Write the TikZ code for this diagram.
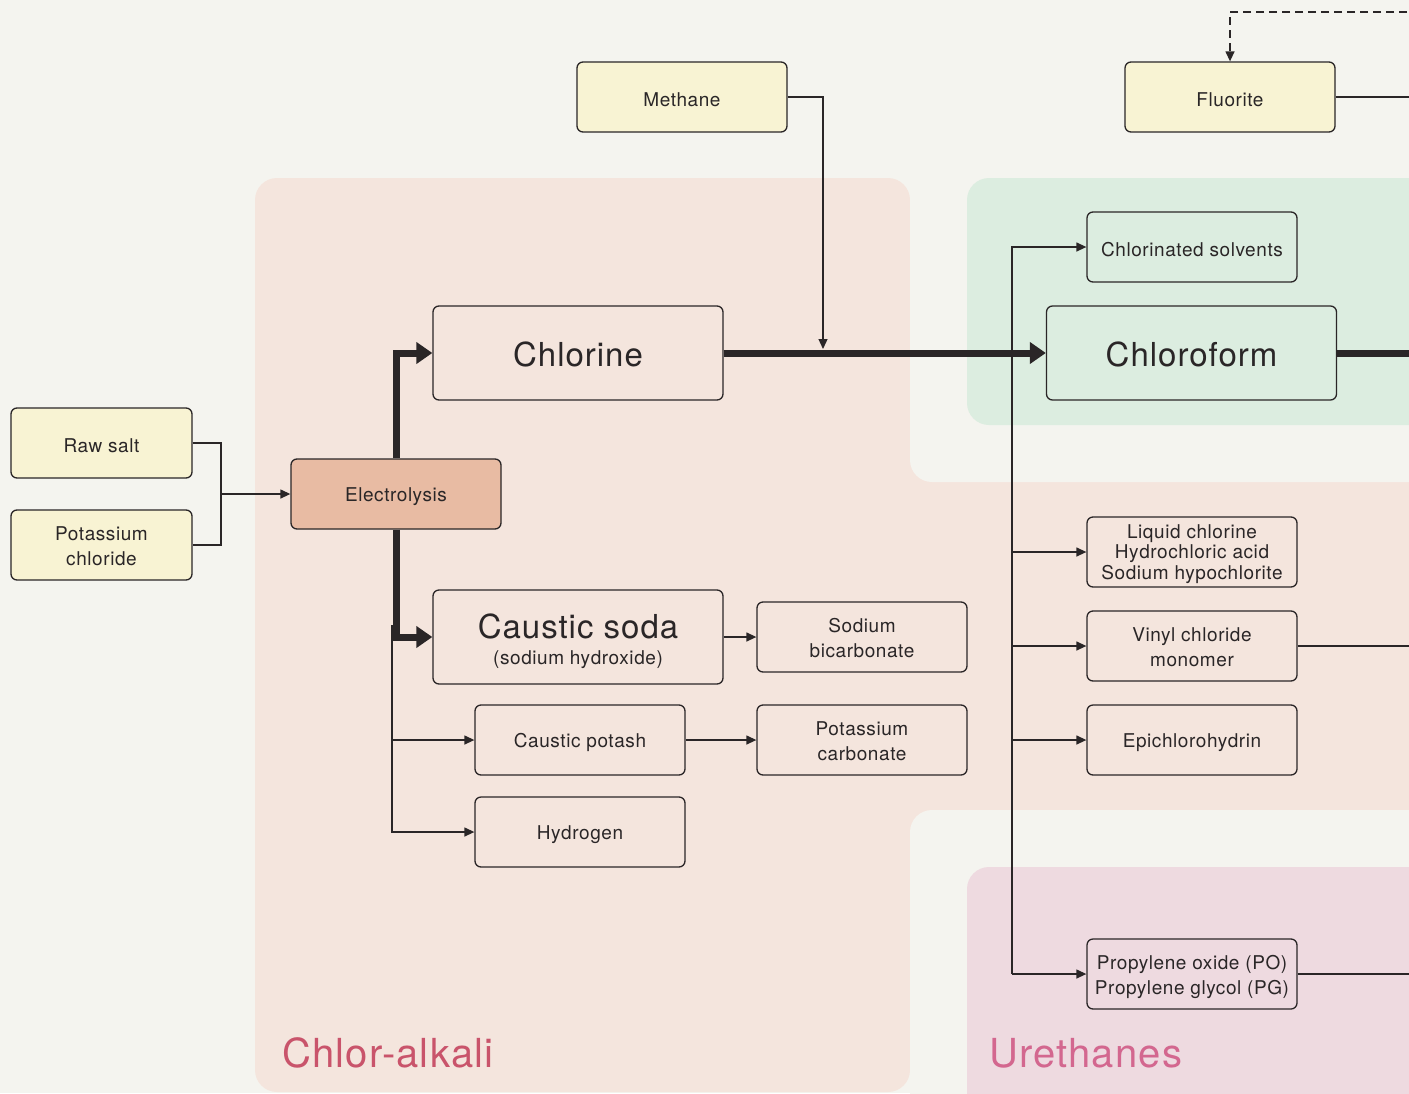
\documentclass[tikz,border=0pt]{standalone}
\usepackage{fontspec}
\setmainfont{TeX Gyre Heros}[LetterSpace=3]
\usetikzlibrary{arrows.meta}
\definecolor{bg}{HTML}{F4F4EF}
\definecolor{cafill}{HTML}{F4E5DD}
\definecolor{grfill}{HTML}{DCEDE0}
\definecolor{pkfill}{HTML}{EEDAE0}
\definecolor{yel}{HTML}{F8F3D3}
\definecolor{elecfill}{HTML}{E8BBA3}
\definecolor{ink}{HTML}{2A2627}
\definecolor{calabel}{HTML}{C9546B}
\definecolor{urlabel}{HTML}{D3678F}
\newcommand\dnlines[1]{\raisebox{-3pt}[\height][\depth]{\begin{tabular}{@{}c@{}}#1\end{tabular}}}
\begin{document}
\begin{tikzpicture}[x=1pt,y=-1pt,
 box/.style={draw=ink,line width=1.3pt,rounded corners=6pt,minimum width=210pt,minimum height=70pt,align=center,font=\fontsize{19}{25}\selectfont,text=ink,inner sep=0pt,execute at begin node={\rule{0pt}{20pt}}},
 multi/.style={execute at begin node={}},
 bigbox/.style={box,minimum width=290pt,minimum height=94pt,font=\fontsize{33}{38}\selectfont,execute at begin node={\rule{0pt}{28pt}}},
 txt/.style={text=ink,inner sep=0pt},
 conn/.style={draw=ink,line width=1.3pt},
 arr/.style={conn,-{Triangle[length=10pt,width=9pt]}},
 thickarr/.style={draw=ink,line width=7pt,-{Triangle[length=16pt,width=21pt]}},
 region/.style={rounded corners=22pt},
]
\useasboundingbox (0,0) rectangle (1409,1093);
\clip (0,0) rectangle (1409,1093);
% backgrounds
\fill[bg] (0,0) rectangle (1409,1093);
\fill[cafill,region] (255,178) rectangle (910,1092);
\fill[cafill] (700,440) rectangle (1460,850);
\fill[bg,region] (910,140) rectangle (1460,482);
\fill[bg,region] (910,810) rectangle (1460,1140);
\fill[grfill,region] (967,178) rectangle (1460,425);
\fill[pkfill,region] (967,867) rectangle (1460,1140);
\node[anchor=base west,inner sep=0pt,font=\fontsize{40}{40}\selectfont,text=calabel] (calabel) at (282,1067) {Chlor-alkali};
\node[anchor=base west,inner sep=0pt,font=\fontsize{40}{40}\selectfont,text=urlabel] (urlabel) at (989,1067) {Urethanes};
% nodes
\node[box,fill=yel] (methane) at (682,97) {Methane};
\node[box,fill=yel] (fluorite) at (1230,97) {Fluorite};
\node[box,fill=grfill] (solv) at (1192,247) {Chlorinated solvents};
\node[bigbox,fill=cafill] (chlorine) at (578,353) {Chlorine};
\node[bigbox,fill=grfill] (chloroform) at (1191.5,353) {Chloroform};
\node[box,fill=yel,minimum width=181pt] (rawsalt) at (101.5,443) {Raw salt};
\node[box,multi,fill=yel,minimum width=181pt] (kcl) at (101.5,545) {\dnlines{Potassium\\chloride}};
\node[box,fill=elecfill] (elec) at (396,494) {Electrolysis};
\node[box,multi,fill=cafill,font=\fontsize{19}{20}\selectfont] (liq) at (1192,552) {\dnlines{Liquid chlorine\\Hydrochloric acid\\Sodium hypochlorite}};
\node[bigbox,fill=cafill,execute at begin node={}] (soda) at (578,637) {};
\node[txt,anchor=base,font=\fontsize{33}{38}\selectfont] (sodat) at (578,638) {Caustic soda};
\node[txt,anchor=base,font=\fontsize{19}{22}\selectfont] (sodat2) at (578,664) {(sodium hydroxide)};
\node[box,multi,fill=cafill] (sbic) at (862,637) {\dnlines{Sodium\\bicarbonate}};
\node[box,multi,fill=cafill] (vcm) at (1192,646) {\dnlines{Vinyl chloride\\monomer}};
\node[box,fill=cafill] (potash) at (580,740) {Caustic potash};
\node[box,multi,fill=cafill] (k2co3) at (862,740) {\dnlines{Potassium\\carbonate}};
\node[box,fill=cafill] (epi) at (1192,740) {Epichlorohydrin};
\node[box,fill=cafill] (h2) at (580,832) {Hydrogen};
\node[box,multi,fill=pkfill] (po) at (1192,974) {\dnlines{Propylene oxide (PO)\\Propylene glycol (PG)}};
% connectors
\coordinate (merge) at (221,494);
\draw[conn] (rawsalt.east) -| (merge) |- (kcl.east);
\draw[arr] (merge) -- (elec.west);
\draw[thickarr] (elec.north) |- (chlorine.west);
\draw[thickarr] (elec.south) |- (soda.west);
\draw[thickarr] (chlorine.east) -- (chloroform.west);
\draw[ink,line width=7pt] (chloroform.east) -- ++(100,0);
\coordinate (mdrop) at (823,349);
\draw[arr] (methane.east) -| (mdrop);
\coordinate (hb) at (392,625);
\draw[arr] (hb) |- (potash.west);
\draw[arr] (hb) |- (h2.west);
\draw[arr] (soda.east) -- (sbic.west);
\draw[arr] (potash.east) -- (k2co3.west);
\coordinate (trunkB) at (1012,974);
\draw[arr] (trunkB) |- (solv.west);
\draw[arr] (trunkB) -- (po.west);
\draw[arr] (liq.west -| trunkB) -- (liq.west);
\draw[arr] (vcm.west -| trunkB) -- (vcm.west);
\draw[arr] (epi.west -| trunkB) -- (epi.west);
\draw[conn] (fluorite.east) -- ++(100,0);
\draw[conn] (vcm.east) -- ++(150,0);
\draw[conn] (po.east) -- ++(150,0);
\coordinate (dashR) at (1420,12);
\draw[arr,dash pattern=on 8pt off 5pt] (dashR) -| (fluorite.north);
\end{tikzpicture}
\end{document}
